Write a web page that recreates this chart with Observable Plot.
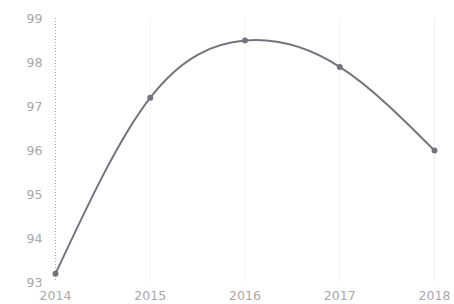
<!DOCTYPE html>
<html><head><meta charset="utf-8">
<script src="https://cdn.jsdelivr.net/npm/d3@7"></script>
<script src="https://cdn.jsdelivr.net/npm/@observablehq/plot@0.6"></script>
<style>body{margin:0;background:#fff;} svg{display:block;}</style>
</head><body><div id="chart"></div>
<script>
const years = [2014, 2015, 2016, 2017, 2018];
const values = [93.2, 97.2, 98.5, 97.9, 96.0];
const yTicks = [93, 94, 95, 96, 97, 98, 99];
const data = years.map((y, i) => ({year: y, value: values[i]}));
const chart = Plot.plot({
  width: 454, height: 304,
  marginLeft: 55, marginRight: 20, marginTop: 18, marginBottom: 22,
  style: {fontFamily: "DejaVu Sans, sans-serif", fontSize: "12.5px", color: "#a8a8a8", background: "#fff"},
  x: {domain: [2014, 2018], ticks: years, tickFormat: "d", tickSize: 0, tickPadding: 9, label: null},
  y: {domain: [93, 99], ticks: yTicks, tickFormat: "d", tickSize: 0, tickPadding: 13, label: null},
  marks: [
    Plot.ruleX(years.slice(1), {stroke: "#f1f1f1", strokeWidth: 1}),
    Plot.ruleX([2014], {stroke: "#aaa", strokeDasharray: "1,2"}),
    Plot.line(data, {x: "year", y: "value", curve: "natural", stroke: "#77737d", strokeWidth: 2}),
    Plot.dot(data, {x: "year", y: "value", r: 3, fill: "#77737d"})
  ]
});
document.getElementById("chart").append(chart);
</script></body></html>
